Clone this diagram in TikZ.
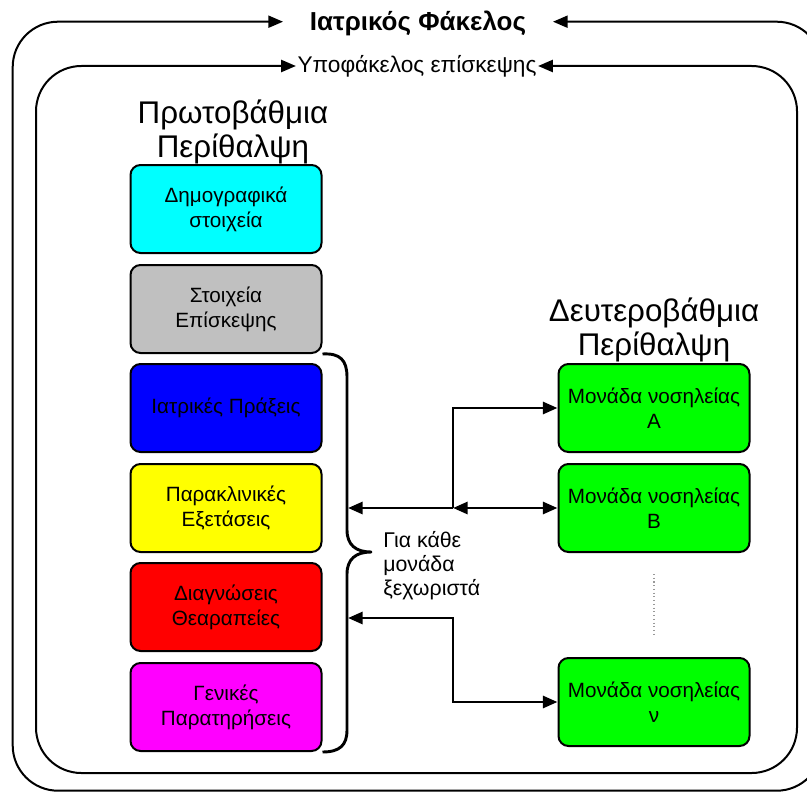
\documentclass[tikz,border=0pt]{standalone}
\usepackage{fontspec}
\setmainfont{Liberation Sans}
\usetikzlibrary{arrows.meta}
\definecolor{cyanx}{RGB}{0,255,255}
\definecolor{grayx}{RGB}{192,192,192}
\definecolor{bluex}{RGB}{0,0,255}
\definecolor{yellowx}{RGB}{255,255,0}
\definecolor{redx}{RGB}{255,0,0}
\definecolor{magentax}{RGB}{255,0,255}
\definecolor{greenx}{RGB}{0,255,0}
\newcommand{\boxfnt}{\fontsize{15.5}{18.75}\selectfont}
\newcommand{\notefnt}{\fontsize{16}{18}\selectfont}
\newcommand{\bigfnt}{\fontsize{23.5}{25.5}\selectfont}
\begin{document}
\begin{tikzpicture}[x=0.75pt,y=-0.75pt,
  frame/.style={line width=1.5pt, line join=round},
  conn/.style={line width=2.2pt},
  tipa/.tip={Triangle[length=11pt,width=9pt]},
  box/.style={draw=black, line width=1.5pt, rounded corners=7.5pt,
    minimum width=143.25pt, minimum height=66pt, align=center,
    font=\boxfnt, inner sep=0pt},
  ttl/.style={align=center, font=\bigfnt, inner sep=0pt},
  ]
\useasboundingbox (0,0) rectangle (807,792);
\clip (0,0) rectangle (807,792);

% titles on frames
\node[font=\bfseries\fontsize{19.5}{22}\selectfont, inner xsep=20pt, inner ysep=0pt] (rec) at (418,23) {Ιατρικός Φάκελος};
\node[font=\fontsize{17}{20}\selectfont, inner xsep=1pt, inner ysep=0pt] (sub) at (417,66) {Υποφάκελος επίσκεψης};

% frames
\draw[frame, tipa-tipa, rounded corners=34pt]
  (rec.east |- 0,21.7) -- (822,21.7) -- (822,790.7) -- (12.7,790.7) -- (12.7,21.7) -- (rec.west |- 0,21.7);
\draw[frame, tipa-tipa, rounded corners=34pt]
  (sub.east |- 0,66) -- (797,66) -- (797,773) -- (36,773) -- (36,66) -- (sub.west |- 0,66);

% section titles
\node[ttl] (prim) at (233,132) {Πρωτοβάθμια\\Περίθαλψη};
\node[ttl] (sec) at (654,330) {Δευτεροβάθμια\\Περίθαλψη};

% primary boxes
\node[box, fill=cyanx] (demo) at (226,209) {Δημογραφικά\\στοιχεία};
\node[box, fill=grayx] (visit) at (226,309) {Στοιχεία\\Επίσκεψης};
\node[box, fill=bluex] (acts) at (226,408) {Ιατρικές Πράξεις};
\node[box, fill=yellowx] (exams) at (226,508) {Παρακλινικές\\Εξετάσεις};
\node[box, fill=redx] (diag) at (226,607) {Διαγνώσεις\\Θεαραπείες};
\node[box, fill=magentax] (gen) at (226,707) {Γενικές\\Παρατηρήσεις};

% secondary boxes
\node[box, fill=greenx] (unitA) at (654,408) {Μονάδα νοσηλείας\\Α};
\node[box, fill=greenx] (unitB) at (654,508) {Μονάδα νοσηλείας\\Β};
\node[box, fill=greenx] (unitN) at (654,702) {Μονάδα νοσηλείας\\ν};

% brace
\draw[conn, line join=round]
  (visit.south east) .. controls (340,353) and (347,360) .. (347,377)
  -- (347,530) .. controls (347,545) and (356,552) .. (371,552)
  .. controls (356,552) and (347,559) .. (347,574)
  -- (347,730) .. controls (347,745) and (340,752) .. (gen.south east);

\coordinate (braceA) at (348,508);
\coordinate (braceB) at (348,618);
\coordinate (jA) at (453,508);
\coordinate (jB) at (453,618);

\node[align=left, anchor=west, font=\notefnt, inner sep=0pt] (note) at (383,566) {Για κάθε\\μονάδα\\ξεχωριστά};

% connectors
\draw[conn, -tipa] (jA) -- (braceA);
\draw[conn, -tipa] (jA) |- (unitA.west);
\draw[conn, tipa-tipa] (jA) -- (unitB.west);
\draw[conn, tipa-tipa] (braceB) -- (jB) |- (unitN.west);

% dotted continuation
\draw[black!40, line width=0.8pt, dotted] (654,574) -- (654,636);
\end{tikzpicture}
\end{document}
